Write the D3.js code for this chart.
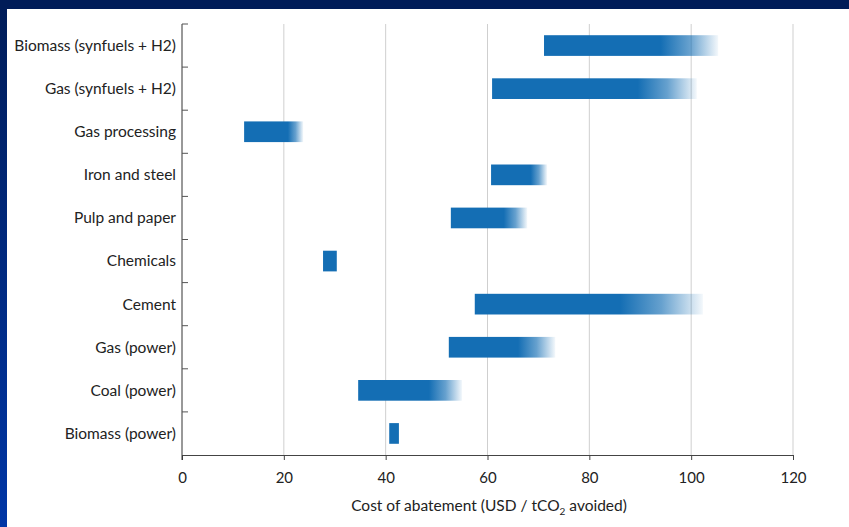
<!DOCTYPE html>
<html><head><meta charset="utf-8">
<script src="https://cdn.jsdelivr.net/npm/d3@7"></script>
<style>html,body{margin:0;padding:0;background:#fff;overflow:hidden}</style>
</head><body>
<svg id="c" width="849" height="527"></svg>
<script>
const categories = ["Biomass (synfuels + H2)","Gas (synfuels + H2)","Gas processing","Iron and steel","Pulp and paper","Chemicals","Cement","Gas (power)","Coal (power)","Biomass (power)"];
const lowCost   = [71.1, 60.9, 12.2, 60.7, 52.8, 27.7, 57.5, 52.4, 34.6, 40.7];
const solidEnd  = [94.0, 89.5, 20.8, 68.5, 63.2, 30.4, 86.0, 66.0, 48.5, 42.6];
const highCost  = [105.3, 101.1, 23.8, 71.7, 67.8, 30.4, 102.3, 73.3, 55.0, 42.6];
const xTicks = [0, 20, 40, 60, 80, 100, 120];

const svg = d3.select("#c");
const W = 849, H = 527;
const defs = svg.append("defs");
const fg = defs.append("linearGradient").attr("id","frame").attr("x1",0).attr("y1",0).attr("x2",0).attr("y2",1);
fg.append("stop").attr("offset","0%").attr("stop-color","#001c58");
fg.append("stop").attr("offset","100%").attr("stop-color","#0036a6");
svg.append("rect").attr("width",W).attr("height",H).attr("fill","url(#frame)");
svg.append("rect").attr("x",0).attr("y",0).attr("width",W).attr("height",9).attr("fill","#001c58");
svg.append("rect").attr("x",7).attr("y",9).attr("width",W-7).attr("height",H-9).attr("fill","#fff");

const x = d3.scaleLinear().domain([0,120]).range([182,793]);
const y = d3.scaleBand().domain(categories).range([24,455]).paddingInner(0.52).paddingOuter(0.26);
const step = y.step();
const font = "Lato, 'Open Sans', sans-serif";

// gridlines
svg.append("g").selectAll("line").data(xTicks.slice(1)).join("line")
  .attr("x1",d=>x(d)).attr("x2",d=>x(d)).attr("y1",24).attr("y2",455)
  .attr("stroke","#cfcfcf").attr("stroke-width",1);

// bars
const data = categories.map((c,i)=>({c, lo:lowCost[i], mid:solidEnd[i], hi:highCost[i], i}));
data.forEach(d=>{
  const g = defs.append("linearGradient").attr("id","g"+d.i)
    .attr("gradientUnits","userSpaceOnUse")
    .attr("x1",x(d.lo)).attr("x2",x(d.hi)).attr("y1",0).attr("y2",0);
  const f = (x(d.mid)-x(d.lo))/Math.max(1e-6,(x(d.hi)-x(d.lo)));
  g.append("stop").attr("offset",0).attr("stop-color","#146eb4").attr("stop-opacity",1);
  g.append("stop").attr("offset",f).attr("stop-color","#146eb4").attr("stop-opacity",1);
  g.append("stop").attr("offset",f+(1-f)*0.5).attr("stop-color","#146eb4").attr("stop-opacity",0.65);
  g.append("stop").attr("offset",1).attr("stop-color","#146eb4").attr("stop-opacity",0.05);
});
svg.append("g").selectAll("rect").data(data).join("rect")
  .attr("x",d=>x(d.lo)).attr("width",d=>x(d.hi)-x(d.lo))
  .attr("y",d=>y(d.c)).attr("height",y.bandwidth())
  .attr("fill",d=>"url(#g"+d.i+")");

// x axis
const xa = svg.append("g").attr("transform","translate(0,455)")
  .call(d3.axisBottom(x).tickValues(xTicks).tickSize(5).tickPadding(12).tickSizeOuter(0));
xa.select(".domain").attr("stroke","#444");
xa.selectAll(".tick line").attr("stroke","#444");
xa.selectAll("text").attr("font-family",font).attr("font-size",15).attr("fill","#222");

// y axis line and ticks at band boundaries
svg.append("line").attr("x1",182).attr("x2",182).attr("y1",24).attr("y2",460).attr("stroke","#333");
const bounds = d3.range(categories.length).map(i=>24+i*step);
svg.append("g").selectAll("line").data(bounds).join("line")
  .attr("x1",182).attr("x2",188).attr("y1",d=>d).attr("y2",d=>d).attr("stroke","#555");

// category labels
svg.append("g").selectAll("text").data(categories).join("text")
  .attr("x",176).attr("y",d=>y(d)+y.bandwidth()/2).attr("dy","0.35em")
  .attr("text-anchor","end").attr("font-family",font).attr("font-size",15.5).attr("fill","#222")
  .text(d=>d);

// axis title
const t = svg.append("text").attr("x",489).attr("y",511).attr("text-anchor","middle")
  .attr("font-family",font).attr("font-size",15.5).attr("fill","#222");
t.append("tspan").text("Cost of abatement (USD / tCO");
t.append("tspan").attr("font-size",10).attr("dy",4).text("2");
t.append("tspan").attr("dy",-4).text(" avoided)");
</script>
</body></html>
